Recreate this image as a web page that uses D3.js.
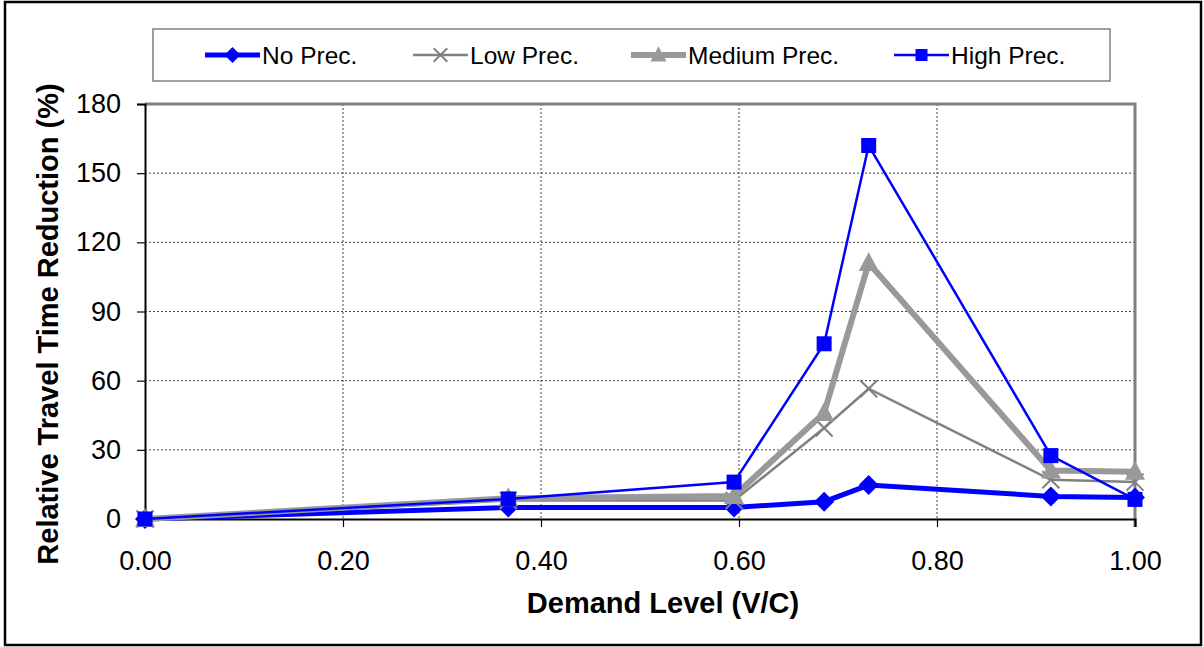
<!DOCTYPE html>
<html><head><meta charset="utf-8">
<script src="https://cdn.jsdelivr.net/npm/d3@7"></script>
<style>body{margin:0;background:#fff;} svg{display:block;} text{font-family:"Liberation Sans",Arial,sans-serif;}</style>
</head><body><svg id="c" width="1204" height="647"></svg>
<script>
const demand = [0, 0.367, 0.595, 0.686, 0.731, 0.915, 1.0];
const noPrec = [0, 5, 5, 7.5, 14.7, 9.8, 9.3];
const lowPrec = [0, 8, 8, 39.5, 56.5, 17, 16];
const mediumPrec = [0, 9, 10, 46, 111, 21, 20.5];
const highPrec = [0, 8.7, 16, 76, 162, 27.5, 8.5];
const seriesNames = ["No Prec.", "Low Prec.", "Medium Prec.", "High Prec."];
const xTicks = [0, 0.2, 0.4, 0.6, 0.8, 1.0];
const yTicks = [0, 30, 60, 90, 120, 150, 180];

const svg = d3.select("#c");
const L = 145, R = 1135, T = 104, B = 519;
const x = d3.scaleLinear().domain([0, 1]).range([L, R]);
const y = d3.scaleLinear().domain([0, 180]).range([B, T]);

svg.append("rect").attr("x", 5).attr("y", 2).attr("width", 1196).attr("height", 643)
  .attr("fill", "#fff").attr("stroke", "#000").attr("stroke-width", 2.5);

// gridlines
const g = svg.append("g");
g.selectAll(".hg").data(yTicks.filter(d => d > 0 && d < 180)).enter().append("line")
  .attr("x1", L).attr("x2", R).attr("y1", d => y(d)).attr("y2", d => y(d))
  .attr("stroke", "#444").attr("stroke-width", 1).attr("stroke-dasharray", "2,2");
g.selectAll(".vg").data(xTicks.filter(d => d > 0 && d < 1)).enter().append("line")
  .attr("y1", T).attr("y2", B).attr("x1", d => x(d)).attr("x2", d => x(d))
  .attr("stroke", "#444").attr("stroke-width", 1).attr("stroke-dasharray", "2,2");

// plot border top/right (gray)
svg.append("path").attr("d", `M${L},${T}H${R}V${B + 8}`).attr("fill", "none")
  .attr("stroke", "#808080").attr("stroke-width", 3);

// axes
const yAxis = d3.axisLeft(y).tickValues(yTicks).tickSize(8).tickFormat(d3.format("d"));
const xAxis = d3.axisBottom(x).tickValues(xTicks).tickSize(8).tickFormat(d3.format(".2f"));
const ya = svg.append("g").attr("transform", `translate(${L},0)`).call(yAxis);
const xa = svg.append("g").attr("transform", `translate(0,${B})`).call(xAxis);
[ya, xa].forEach(a => {
  a.select(".domain").attr("stroke", "#000").attr("stroke-width", 2);
  a.selectAll(".tick line").attr("stroke", "#000").attr("stroke-width", 1.2);
  a.selectAll(".tick text").attr("font-size", 27).attr("fill", "#000")
   .attr("font-family", "'Liberation Sans',Arial,sans-serif");
});
ya.selectAll(".tick text").attr("x", -24);
xa.selectAll(".tick text").attr("y", 32);

// axis titles
svg.append("text").attr("transform", "translate(58,324) rotate(-90)").attr("text-anchor", "middle")
  .attr("font-size", 29).attr("font-weight", "bold").text("Relative Travel Time Reduction (%)");
svg.append("text").attr("x", 663).attr("y", 613).attr("text-anchor", "middle")
  .attr("font-size", 29).attr("font-weight", "bold").text("Demand Level (V/C)");

// series
const series = [
  {name: seriesNames[0], vals: noPrec, color: "#0000ff", w: 5, marker: "diamond", ms: 10},
  {name: seriesNames[1], vals: lowPrec, color: "#808080", w: 2.5, marker: "x", ms: 8.5},
  {name: seriesNames[2], vals: mediumPrec, color: "#999999", w: 6, marker: "tri", ms: 10},
  {name: seriesNames[3], vals: highPrec, color: "#0000ff", w: 2.5, marker: "square", ms: 7.5}
];
function drawMarker(sel, type, cx, cy, s, color) {
  if (type === "diamond") {
    sel.append("path").attr("d", `M${cx},${cy - s}L${cx + s},${cy}L${cx},${cy + s}L${cx - s},${cy}Z`).attr("fill", color);
  } else if (type === "square") {
    sel.append("rect").attr("x", cx - s).attr("y", cy - s).attr("width", 2 * s).attr("height", 2 * s).attr("fill", color);
  } else if (type === "tri") {
    sel.append("path").attr("d", `M${cx},${cy - s * 1.1}L${cx + s},${cy + s * 0.8}L${cx - s},${cy + s * 0.8}Z`).attr("fill", color);
  } else if (type === "x") {
    sel.append("path").attr("d", `M${cx - s},${cy - s}L${cx + s},${cy + s}M${cx - s},${cy + s}L${cx + s},${cy - s}`)
      .attr("stroke", color).attr("stroke-width", 2).attr("fill", "none");
  }
}
const line = d3.line().x((d, i) => x(demand[i])).y(d => y(d));
series.forEach(s => {
  const sg = svg.append("g");
  sg.append("path").datum(s.vals).attr("d", line).attr("fill", "none")
    .attr("stroke", s.color).attr("stroke-width", s.w).attr("stroke-linejoin", "miter");
  s.vals.forEach((v, i) => drawMarker(sg, s.marker, x(demand[i]), y(v), s.ms, s.color));
});

// legend
svg.append("rect").attr("x", 153).attr("y", 29).attr("width", 957).attr("height", 52)
  .attr("fill", "#fff").attr("stroke", "#808080").attr("stroke-width", 1.5);
const legX = [205, 413, 631, 894];
series.forEach((s, i) => {
  const lg = svg.append("g");
  const x0 = legX[i], x1 = x0 + 55, cy = 55;
  lg.append("line").attr("x1", x0).attr("x2", x1).attr("y1", cy).attr("y2", cy)
    .attr("stroke", s.color).attr("stroke-width", s.w);
  drawMarker(lg, s.marker, (x0 + x1) / 2, cy, s.ms * 0.8, s.color);
  lg.append("text").attr("x", x1 + 2).attr("y", cy + 9).attr("font-size", 24.5).text(s.name);
});
</script></body></html>
